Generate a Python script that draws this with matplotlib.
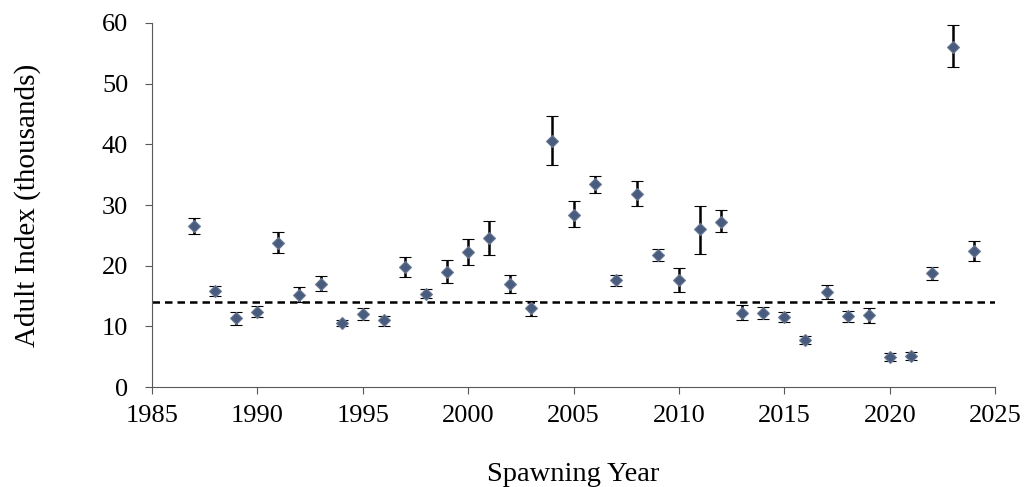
import matplotlib.pyplot as plt
import numpy as np

years = list(range(1987, 2025))
index = [26.6, 15.9, 11.4, 12.4, 23.8, 15.2, 17.0, 10.6, 12.0, 11.0,
         19.8, 15.4, 19.0, 22.2, 24.6, 17.0, 13.0, 40.6, 28.4, 33.4,
         17.6, 31.8, 21.8, 17.6, 26.0, 27.2, 12.25, 12.25, 11.6, 7.8,
         15.6, 11.7, 11.9, 5.0, 5.2, 18.8, 56.0, 22.4]
upper = [27.9, 16.7, 12.35, 13.3, 25.6, 16.5, 18.3, 11.0, 13.1, 11.8,
         21.5, 16.1, 21.0, 24.4, 27.4, 18.5, 14.2, 44.7, 30.6, 34.8,
         18.5, 33.9, 22.8, 19.6, 29.9, 29.1, 13.6, 13.2, 12.35, 8.4,
         16.8, 12.5, 13.0, 5.65, 5.8, 19.8, 59.6, 24.0]
lower = [25.3, 15.0, 10.3, 11.6, 22.1, 14.1, 15.8, 10.05, 11.0, 10.05,
         18.1, 14.7, 17.1, 20.1, 21.85, 15.5, 11.7, 36.6, 26.3, 31.9,
         16.6, 29.9, 20.7, 15.7, 21.9, 25.5, 11.1, 11.3, 10.8, 7.1,
         14.6, 10.8, 10.65, 4.3, 4.55, 17.6, 52.7, 20.8]
mean_line = 14.1

plt.rcParams['font.family'] = ['Liberation Serif', 'DejaVu Serif']

idx = np.array(index)
yerr = [idx - np.array(lower), np.array(upper) - idx]

fig = plt.figure(figsize=(10.26, 4.87), dpi=100)
ax = fig.add_axes([0.148, 0.205, 0.822, 0.748])

ax.axhline(mean_line, color='black', linestyle=(0, (3, 2)), linewidth=1.8, zorder=1)
ax.errorbar(years, index, yerr=yerr, fmt='D', color='#4A5C7E', markersize=6.3,
            markeredgecolor='#6A7A96', markeredgewidth=0.8,
            ecolor='black', elinewidth=1.8, capsize=4.5, capthick=1.8, zorder=3)

ax.set_xlim(1985, 2025)
ax.set_ylim(0, 60)
ax.set_xticks(range(1985, 2026, 5))
ax.set_yticks(range(0, 61, 10))
ax.tick_params(labelsize=19, direction='out', length=5, color='#595959')
ax.tick_params(axis='y', pad=12)
ax.tick_params(axis='x', pad=8)
ax.spines['top'].set_visible(False)
ax.spines['right'].set_visible(False)
ax.spines['left'].set_color('#595959')
ax.spines['bottom'].set_color('#595959')
ax.set_xlabel('Spawning Year', fontsize=20.5, labelpad=25)
ax.set_ylabel('Adult Index (thousands)', fontsize=21, labelpad=44)

fig.savefig('out.png', dpi=100)
